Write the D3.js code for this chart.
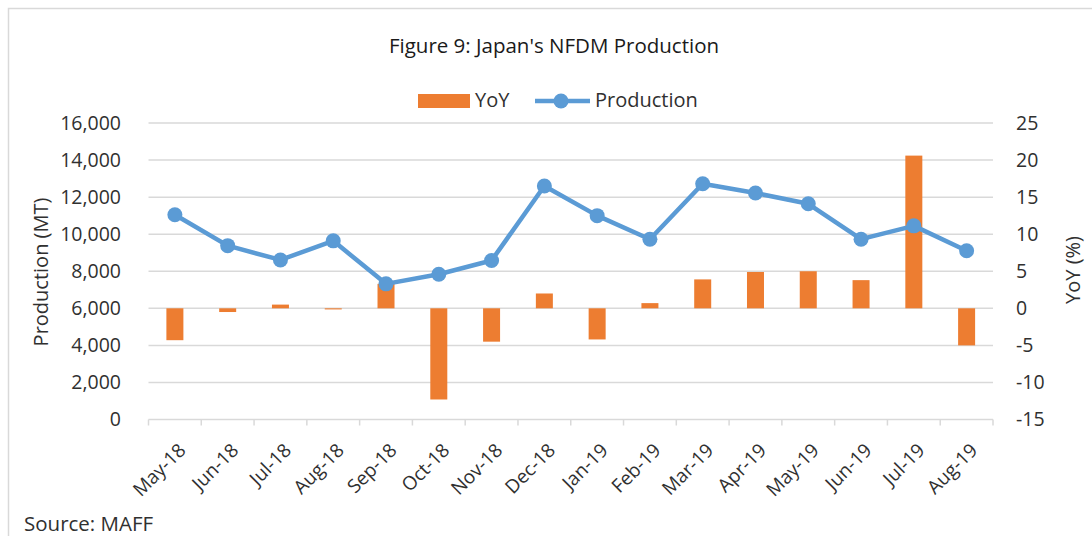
<!DOCTYPE html>
<html>
<head>
<meta charset="utf-8">
<script src="https://cdn.jsdelivr.net/npm/d3@7"></script>
<style>
  body { margin: 0; background: #fff; }
  svg text { font-family: "Open Sans", "Liberation Sans", sans-serif; fill: #303030; }
</style>
</head>
<body>
<svg id="chart" width="1092" height="536"></svg>
<script>
// data
const months = ["May-18", "Jun-18", "Jul-18", "Aug-18", "Sep-18", "Oct-18", "Nov-18", "Dec-18",
                "Jan-19", "Feb-19", "Mar-19", "Apr-19", "May-19", "Jun-19", "Jul-19", "Aug-19"];
const production = [11050, 9380, 8610, 9640, 7320, 7840, 8580, 12600,
                    11000, 9730, 12720, 12220, 11640, 9730, 10450, 9110];
const yoy = [-4.3, -0.5, 0.5, -0.15, 3.3, -12.3, -4.5, 2.0,
             -4.2, 0.7, 3.9, 4.9, 5.0, 3.8, 20.6, -5.0];
const leftTicks = [0, 2000, 4000, 6000, 8000, 10000, 12000, 14000, 16000];
const rightTicks = [-15, -10, -5, 0, 5, 10, 15, 20, 25];

const svg = d3.select("#chart");
const plotLeft = 148.5, plotRight = 993, plotTop = 123, plotBottom = 419.5;

// frame around the chart
svg.append("rect")
    .attr("x", 8.5).attr("y", 8.5)
    .attr("width", 1100).attr("height", 560)
    .attr("fill", "none").attr("stroke", "#d9d9d9").attr("stroke-width", 1.5);

const x = d3.scaleBand().domain(months).range([plotLeft, plotRight]);
const yL = d3.scaleLinear().domain([0, 16000]).range([plotBottom, plotTop]);
const yR = d3.scaleLinear().domain([-15, 25]).range([plotBottom, plotTop]);
const cx = m => x(m) + x.bandwidth() / 2;

// gridlines
svg.append("g").selectAll("line").data(leftTicks).join("line")
    .attr("x1", plotLeft).attr("x2", plotRight)
    .attr("y1", d => yL(d)).attr("y2", d => yL(d))
    .attr("stroke", "#d9d9d9").attr("stroke-width", 1.5);

// x axis ticks
const bounds = months.map(m => x(m)).concat([plotRight]);
svg.append("g").selectAll("line").data(bounds).join("line")
    .attr("x1", d => d).attr("x2", d => d)
    .attr("y1", plotBottom).attr("y2", plotBottom + 6)
    .attr("stroke", "#d9d9d9").attr("stroke-width", 1.5);

// left axis labels
svg.append("g").selectAll("text").data(leftTicks).join("text")
    .attr("x", 121).attr("y", d => yL(d))
    .attr("dy", "0.35em").attr("text-anchor", "end")
    .style("font-size", "19.5px")
    .text(d => d3.format(",")(d));

// right axis labels
svg.append("g").selectAll("text").data(rightTicks).join("text")
    .attr("x", 1016).attr("y", d => yR(d))
    .attr("dy", "0.35em").attr("text-anchor", "start")
    .style("font-size", "19.5px")
    .text(d => d);

// month labels, rotated
svg.append("g").selectAll("text").data(months).join("text")
    .attr("transform", d => `translate(${cx(d) + 12},${plotBottom + 32}) rotate(-45)`)
    .attr("text-anchor", "end")
    .style("font-size", "19px")
    .text(d => d);

// YoY bars
const bw = 17;
svg.append("g").selectAll("rect").data(yoy).join("rect")
    .attr("x", (d, i) => cx(months[i]) - bw / 2)
    .attr("width", bw)
    .attr("y", d => yR(Math.max(0, d)))
    .attr("height", d => Math.abs(yR(d) - yR(0)))
    .attr("fill", "#ed7d31");

// production line
const line = d3.line()
    .x((d, i) => cx(months[i]))
    .y(d => yL(d));
svg.append("path").datum(production)
    .attr("d", line)
    .attr("fill", "none").attr("stroke", "#5b9bd5")
    .attr("stroke-width", 4.5).attr("stroke-linejoin", "round");
svg.append("g").selectAll("circle").data(production).join("circle")
    .attr("cx", (d, i) => cx(months[i]))
    .attr("cy", d => yL(d))
    .attr("r", 7.5).attr("fill", "#5b9bd5");

// title
svg.append("text")
    .attr("x", 554).attr("y", 53).attr("text-anchor", "middle")
    .style("font-size", "20.5px").style("fill", "#1a1a1a")
    .text("Figure 9: Japan's NFDM Production");

// legend
const lg = svg.append("g");
lg.append("rect").attr("x", 418).attr("y", 94).attr("width", 52).attr("height", 14).attr("fill", "#ed7d31");
lg.append("text").attr("x", 475).attr("y", 107).style("font-size", "20px").text("YoY");
lg.append("line").attr("x1", 535).attr("x2", 590).attr("y1", 101).attr("y2", 101)
    .attr("stroke", "#5b9bd5").attr("stroke-width", 4.5);
lg.append("circle").attr("cx", 561).attr("cy", 101).attr("r", 7.5).attr("fill", "#5b9bd5");
lg.append("text").attr("x", 595).attr("y", 107).style("font-size", "20px").text("Production");

// axis titles
svg.append("text")
    .attr("transform", `translate(48,272) rotate(-90)`)
    .attr("text-anchor", "middle")
    .style("font-size", "20px")
    .text("Production (MT)");
svg.append("text")
    .attr("transform", `translate(1080,270) rotate(-90)`)
    .attr("text-anchor", "middle")
    .style("font-size", "20px")
    .text("YoY (%)");

// source
svg.append("text")
    .attr("x", 24).attr("y", 531)
    .style("font-size", "20.5px")
    .text("Source: MAFF");
</script>
</body>
</html>
